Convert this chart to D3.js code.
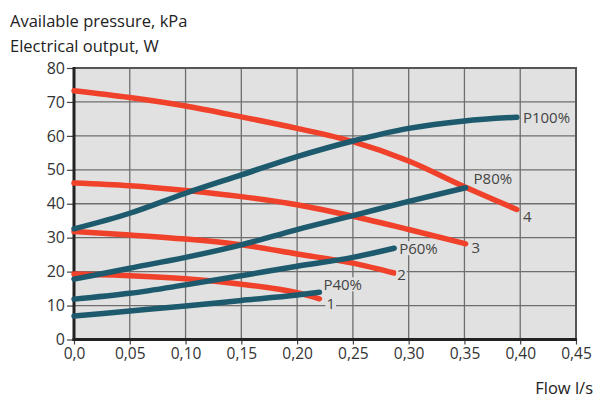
<!DOCTYPE html>
<html>
<head>
<meta charset="utf-8">
<script src="https://cdn.jsdelivr.net/npm/d3@7"></script>
<style>
  body { margin: 0; background: #fff; }
  svg { display: block; font-family: "Open Sans", sans-serif; }
</style>
</head>
<body>
<svg id="chart" width="599" height="398"></svg>
<script>
// pump curves: available pressure (red, 1-4) and electrical output (blue, P40-P100)
const xTicks = [0, 0.05, 0.10, 0.15, 0.20, 0.25, 0.30, 0.35, 0.40, 0.45];
const xTickLabels = ['0,0', '0,05', '0,10', '0,15', '0,20', '0,25', '0,30', '0,35', '0,40', '0,45'];
const yTicks = [0, 10, 20, 30, 40, 50, 60, 70, 80];

const flow4 = [0, 0.05, 0.10, 0.15, 0.20, 0.25, 0.30, 0.35, 0.397];
const press4 = [73.3, 71.3, 68.8, 65.6, 62.2, 58.3, 52.6, 45.0, 38.3];
const flow3 = [0, 0.05, 0.10, 0.15, 0.20, 0.25, 0.30, 0.351];
const press3 = [46.1, 45.3, 43.9, 42.1, 39.7, 36.3, 32.4, 28.2];
const flow2 = [0, 0.05, 0.10, 0.15, 0.20, 0.25, 0.287];
const press2 = [31.8, 30.8, 29.6, 27.9, 25.2, 22.5, 19.6];
const flow1 = [0, 0.05, 0.10, 0.15, 0.20, 0.22];
const press1 = [19.3, 18.8, 17.9, 16.3, 13.8, 12.0];

const flowP100 = [0, 0.05, 0.10, 0.15, 0.20, 0.25, 0.30, 0.35, 0.397];
const powerP100 = [32.6, 37.2, 43.1, 48.5, 53.9, 58.5, 62.2, 64.4, 65.5];
const flowP80 = [0, 0.05, 0.10, 0.15, 0.20, 0.25, 0.30, 0.351];
const powerP80 = [17.8, 21.0, 24.2, 27.9, 32.4, 36.5, 40.7, 44.7];
const flowP60 = [0, 0.05, 0.10, 0.15, 0.20, 0.25, 0.287];
const powerP60 = [11.9, 13.6, 16.1, 18.8, 21.6, 24.2, 26.9];
const flowP40 = [0, 0.05, 0.10, 0.15, 0.20, 0.22];
const powerP40 = [6.9, 8.4, 9.9, 11.5, 13.1, 13.9];

const RED = '#f0412a', BLUE = '#1e5a6d';

// label offsets (px) from each curve's end point
const curves = [
  { name: '1', xs: flow1, ys: press1, color: RED, dx: 7, dy: 10 },
  { name: '2', xs: flow2, ys: press2, color: RED, dx: 3, dy: 7 },
  { name: '3', xs: flow3, ys: press3, color: RED, dx: 6, dy: 9 },
  { name: '4', xs: flow4, ys: press4, color: RED, dx: 6, dy: 12 },
  { name: 'P40%', xs: flowP40, ys: powerP40, color: BLUE, dx: 4, dy: -2 },
  { name: 'P60%', xs: flowP60, ys: powerP60, color: BLUE, dx: 5, dy: 6 },
  { name: 'P80%', xs: flowP80, ys: powerP80, color: BLUE, dx: 8, dy: -4 },
  { name: 'P100%', xs: flowP100, ys: powerP100, color: BLUE, dx: 6, dy: 6 }
];

const svg = d3.select('#chart');
const pLeft = 74, pRight = 576, pTop = 68, pBottom = 339.5;

const x = d3.scaleLinear().domain([0, 0.45]).range([pLeft, pRight]);
const y = d3.scaleLinear().domain([0, 80]).range([pBottom, pTop]);

// plot background
svg.append('rect')
  .attr('x', pLeft).attr('y', pTop)
  .attr('width', pRight - pLeft).attr('height', pBottom - pTop)
  .attr('fill', '#e1e1e1');

// grid
svg.append('g').selectAll('line').data(xTicks.slice(1, -1)).join('line')
  .attr('x1', d => x(d)).attr('x2', d => x(d))
  .attr('y1', pTop).attr('y2', pBottom)
  .attr('stroke', '#6e6e6e').attr('stroke-width', 1.3);
svg.append('g').selectAll('line').data(yTicks.slice(1, -1)).join('line')
  .attr('x1', pLeft).attr('x2', pRight)
  .attr('y1', d => y(d)).attr('y2', d => y(d))
  .attr('stroke', '#6e6e6e').attr('stroke-width', 1.3);

// top / right frame
svg.append('path')
  .attr('d', `M${pLeft},${y(80)}H${x(0.45)}V${pBottom}`)
  .attr('fill', 'none').attr('stroke', '#555').attr('stroke-width', 2);

// axes
const xAxis = svg.append('g')
  .attr('transform', `translate(0,${pBottom})`)
  .call(d3.axisBottom(x).tickValues(xTicks).tickFormat((d, i) => xTickLabels[i]).tickSize(5).tickPadding(3));
const yAxis = svg.append('g')
  .attr('transform', `translate(${pLeft},0)`)
  .call(d3.axisLeft(y).tickValues(yTicks).tickSize(7).tickPadding(2));

[xAxis, yAxis].forEach(g => {
  g.select('.domain').remove();
  g.selectAll('.tick line').attr('stroke', '#444').attr('stroke-width', 1.2);
  g.selectAll('.tick text')
    .attr('fill', '#333')
    .style('font-family', '"Open Sans", sans-serif');
});
xAxis.selectAll('.tick text').style('font-size', '15.5px');
yAxis.selectAll('.tick text').style('font-size', '16px');

svg.append('line')
  .attr('x1', pLeft).attr('x2', pLeft).attr('y1', pTop - 1).attr('y2', pBottom + 1.5)
  .attr('stroke', '#222').attr('stroke-width', 3);
svg.append('line')
  .attr('x1', pLeft - 1.5).attr('x2', pRight + 1).attr('y1', pBottom).attr('y2', pBottom)
  .attr('stroke', '#222').attr('stroke-width', 3);

// curves
const line = d3.line()
  .x(d => x(d[0])).y(d => y(d[1]))
  .curve(d3.curveMonotoneX);

curves.forEach(c => {
  const pts = c.xs.map((v, i) => [v, c.ys[i]]);
  svg.append('path')
    .attr('d', line(pts))
    .attr('fill', 'none')
    .attr('stroke', c.color)
    .attr('stroke-width', 5.5)
    .attr('stroke-linecap', 'round');
});

// end labels with a background patch
curves.forEach(c => {
  const n = c.xs.length - 1;
  const g = svg.append('g');
  const t = g.append('text')
    .attr('x', x(c.xs[n]) + c.dx)
    .attr('y', y(c.ys[n]) + c.dy)
    .attr('fill', '#444')
    .style('font-size', '15px')
    .text(c.name);
  const bb = t.node().getBBox();
  g.insert('rect', 'text')
    .attr('x', bb.x - 1).attr('y', bb.y + 3)
    .attr('width', bb.width + 2).attr('height', bb.height - 6)
    .attr('fill', '#e1e1e1');
});

// titles
svg.append('text').attr('x', 10).attr('y', 27)
  .attr('fill', '#222').style('font-size', '16.5px')
  .text('Available pressure, kPa');
svg.append('text').attr('x', 10).attr('y', 52)
  .attr('fill', '#222').style('font-size', '16.5px')
  .text('Electrical output, W');
svg.append('text').attr('x', 593).attr('y', 394)
  .attr('text-anchor', 'end')
  .attr('fill', '#222').style('font-size', '16.5px')
  .text('Flow l/s');
</script>
</body>
</html>
